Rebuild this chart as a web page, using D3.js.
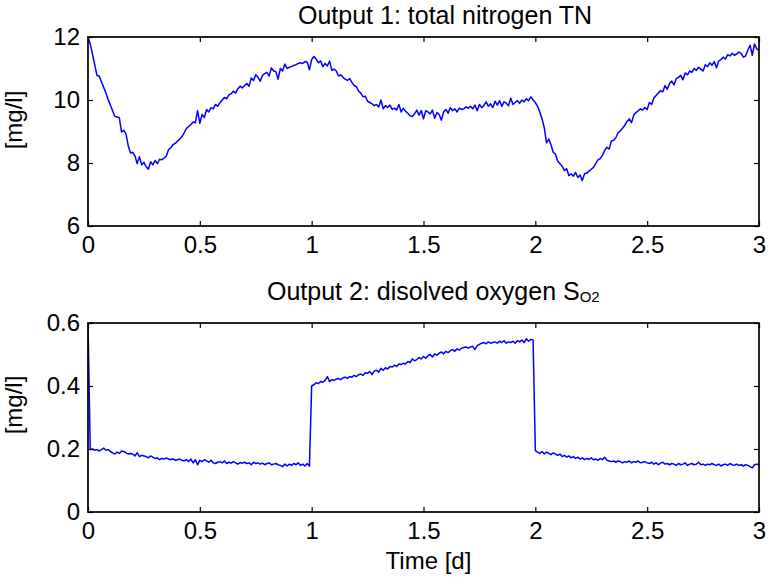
<!DOCTYPE html>
<html>
<head>
<meta charset="utf-8">
<script src="https://cdn.jsdelivr.net/npm/d3@7"></script>
<style>
  body { margin: 0; background: #fff; }
  svg { display: block; font-family: "Liberation Sans", Arial, Helvetica, sans-serif; }
</style>
</head>
<body>
<div id="chart"></div>
<script>
// samples every 0.01 d, t = 0 ... 3
var timeStep = 0.01;

// Output 1: total nitrogen TN [mg/l]
var tnValues = [
  12.00, 11.78, 11.46, 11.12, 10.78, 10.76, 10.58, 10.40, 10.22, 10.02,
  9.84, 9.66, 9.48, 9.46, 9.44, 8.98, 9.04, 8.92, 8.55, 8.32,
  8.34, 8.22, 7.98, 8.20, 7.94, 8.02, 7.88, 7.80, 8.04, 7.94,
  8.08, 7.98, 8.12, 8.10, 8.16, 8.22, 8.42, 8.48, 8.58, 8.62,
  8.70, 8.76, 8.84, 8.96, 9.10, 9.16, 9.22, 9.30, 9.28, 9.66,
  9.26, 9.54, 9.44, 9.70, 9.62, 9.76, 9.72, 9.86, 9.80, 9.92,
  10.00, 10.08, 10.04, 10.16, 10.20, 10.28, 10.22, 10.36, 10.44, 10.38,
  10.46, 10.52, 10.44, 10.70, 10.62, 10.80, 10.72, 10.60, 10.78, 10.84,
  10.88, 10.76, 11.02, 10.92, 10.90, 10.66, 11.00, 10.92, 11.14, 11.00,
  11.04, 11.06, 11.10, 11.12, 11.16, 11.18, 11.16, 11.22, 11.20, 10.96,
  11.28, 11.38, 11.30, 11.18, 11.24, 11.06, 11.16, 11.08, 11.24, 10.94,
  10.98, 10.92, 10.76, 10.80, 10.72, 10.66, 10.62, 10.68, 10.56, 10.46,
  10.42, 10.28, 10.22, 10.10, 10.12, 9.96, 9.92, 9.88, 9.82, 9.86,
  9.78, 10.00, 9.72, 9.82, 9.76, 9.84, 9.70, 9.74, 9.68, 9.86,
  9.62, 9.74, 9.64, 9.58, 9.50, 9.48, 9.56, 9.68, 9.52, 9.66,
  9.40, 9.66, 9.62, 9.56, 9.68, 9.42, 9.60, 9.54, 9.36, 9.62,
  9.70, 9.58, 9.76, 9.66, 9.72, 9.62, 9.74, 9.70, 9.72, 9.78,
  9.74, 9.80, 9.72, 9.84, 9.66, 9.86, 9.76, 9.82, 9.94, 9.80,
  9.88, 9.76, 9.96, 9.84, 9.98, 9.80, 9.94, 9.90, 9.82, 10.06,
  9.86, 9.92, 9.98, 9.90, 10.00, 9.94, 10.04, 9.98, 10.10, 10.00,
  9.92, 9.80, 9.62, 9.40, 9.12, 8.64, 8.76, 8.58, 8.34, 8.28,
  8.06, 7.98, 7.90, 7.76, 7.82, 7.60, 7.66, 7.58, 7.70, 7.54,
  7.62, 7.44, 7.66, 7.68, 7.74, 7.80, 7.86, 7.98, 8.10, 8.14,
  8.24, 8.40, 8.50, 8.44, 8.70, 8.72, 8.80, 8.96, 9.02, 9.10,
  9.20, 9.32, 9.40, 9.28, 9.52, 9.60, 9.66, 9.72, 9.68, 9.76,
  9.70, 9.92, 9.86, 10.06, 10.14, 10.22, 10.30, 10.26, 10.46, 10.34,
  10.52, 10.60, 10.48, 10.68, 10.72, 10.78, 10.64, 10.86, 10.80, 10.92,
  10.88, 11.00, 10.94, 11.04, 10.98, 10.92, 11.12, 11.06, 11.18, 11.10,
  11.22, 11.02, 11.24, 11.28, 11.36, 11.30, 11.44, 11.40, 11.48, 11.42,
  11.46, 11.52, 11.48, 11.36, 11.40, 11.58, 11.74, 11.42, 11.78, 11.62,
  11.58
];

// Output 2: dissolved oxygen S_O2 [mg/l]
var o2Values = [
  0.600, 0.198, 0.200, 0.196, 0.198, 0.194, 0.198, 0.203, 0.196, 0.198,
  0.192, 0.188, 0.184, 0.190, 0.186, 0.194, 0.192, 0.188, 0.184, 0.186,
  0.184, 0.178, 0.188, 0.176, 0.180, 0.178, 0.176, 0.172, 0.178, 0.174,
  0.170, 0.172, 0.166, 0.170, 0.168, 0.172, 0.168, 0.166, 0.169, 0.164,
  0.166, 0.168, 0.164, 0.162, 0.166, 0.160, 0.168, 0.156, 0.166, 0.150,
  0.164, 0.160, 0.166, 0.162, 0.158, 0.164, 0.156, 0.154, 0.158, 0.160,
  0.156, 0.162, 0.154, 0.158, 0.155, 0.160, 0.156, 0.152, 0.157, 0.155,
  0.158, 0.154, 0.156, 0.150, 0.158, 0.154, 0.156, 0.152, 0.155, 0.150,
  0.154, 0.156, 0.150, 0.152, 0.154, 0.150, 0.148, 0.144, 0.152, 0.146,
  0.152, 0.148, 0.154, 0.150, 0.156, 0.148, 0.152, 0.146, 0.154, 0.146,
  0.400, 0.404, 0.410, 0.408, 0.414, 0.412, 0.418, 0.430, 0.414, 0.420,
  0.418, 0.422, 0.424, 0.420, 0.426, 0.428, 0.424, 0.430, 0.428, 0.434,
  0.430, 0.436, 0.438, 0.434, 0.442, 0.440, 0.446, 0.436, 0.448, 0.450,
  0.444, 0.456, 0.450, 0.458, 0.454, 0.462, 0.460, 0.466, 0.462, 0.470,
  0.468, 0.472, 0.470, 0.478, 0.474, 0.486, 0.480, 0.484, 0.490, 0.486,
  0.494, 0.488, 0.496, 0.500, 0.492, 0.502, 0.498, 0.504, 0.508, 0.502,
  0.510, 0.506, 0.512, 0.516, 0.510, 0.518, 0.514, 0.520, 0.522, 0.524,
  0.520, 0.524, 0.526, 0.516, 0.528, 0.532, 0.536, 0.538, 0.534, 0.540,
  0.536, 0.538, 0.540, 0.536, 0.542, 0.538, 0.544, 0.536, 0.540, 0.538,
  0.542, 0.536, 0.544, 0.540, 0.546, 0.538, 0.550, 0.542, 0.548, 0.546,
  0.195, 0.190, 0.186, 0.192, 0.184, 0.190, 0.186, 0.182, 0.188, 0.184,
  0.180, 0.184, 0.176, 0.180, 0.174, 0.178, 0.172, 0.176, 0.170, 0.174,
  0.168, 0.172, 0.166, 0.170, 0.167, 0.172, 0.166, 0.168, 0.164, 0.170,
  0.166, 0.174, 0.164, 0.162, 0.160, 0.162, 0.158, 0.162, 0.160, 0.156,
  0.160, 0.158, 0.162, 0.156, 0.160, 0.158, 0.162, 0.156, 0.158, 0.160,
  0.156, 0.154, 0.158, 0.152, 0.156, 0.150, 0.155, 0.158, 0.152, 0.154,
  0.150, 0.154, 0.152, 0.148, 0.154, 0.150, 0.152, 0.156, 0.148, 0.152,
  0.154, 0.150, 0.152, 0.158, 0.150, 0.152, 0.148, 0.152, 0.150, 0.154,
  0.150, 0.148, 0.152, 0.146, 0.150, 0.152, 0.148, 0.154, 0.150, 0.148,
  0.152, 0.148, 0.150, 0.146, 0.150, 0.148, 0.144, 0.140, 0.150, 0.152,
  0.150
];

var xTickValues = [0, 0.5, 1, 1.5, 2, 2.5, 3];
var tnTickValues = [6, 8, 10, 12];
var o2TickValues = [0, 0.2, 0.4, 0.6];

var width = 769, height = 579;
var left = 88, right = 759;
var fontFamily = '"Liberation Sans", Arial, Helvetica, sans-serif';

var svg = d3.select('#chart').append('svg')
    .attr('width', width)
    .attr('height', height);

var x = d3.scaleLinear().domain([0, 3]).range([left, right]);
var fmt = function (d) { return String(d); };

function panel(top, bottom, values, yDomain, yTicks, id) {
    var y = d3.scaleLinear().domain(yDomain).range([bottom, top]);
    var g = svg.append('g');

    g.append('clipPath').attr('id', id)
        .append('rect')
        .attr('x', left).attr('y', top - 1)
        .attr('width', right - left).attr('height', bottom - top + 2);

    var line = d3.line()
        .x(function (d, i) { return x(i * timeStep); })
        .y(function (d) { return y(d); });

    g.append('path')
        .datum(values)
        .attr('clip-path', 'url(#' + id + ')')
        .attr('fill', 'none')
        .attr('stroke', '#0000ff')
        .attr('stroke-width', 1.5)
        .attr('stroke-linejoin', 'round')
        .attr('d', line);

    g.append('g').attr('transform', 'translate(0,' + bottom + ')')
        .call(d3.axisBottom(x).tickValues(xTickValues).tickFormat(fmt)
            .tickSizeInner(-5).tickSizeOuter(0).tickPadding(10));
    g.append('g').attr('transform', 'translate(0,' + top + ')')
        .call(d3.axisTop(x).tickValues(xTickValues).tickFormat('')
            .tickSizeInner(-5).tickSizeOuter(0));
    g.append('g').attr('transform', 'translate(' + left + ',0)')
        .call(d3.axisLeft(y).tickValues(yTicks).tickFormat(fmt)
            .tickSizeInner(-5).tickSizeOuter(0).tickPadding(8));
    g.append('g').attr('transform', 'translate(' + right + ',0)')
        .call(d3.axisRight(y).tickValues(yTicks).tickFormat('')
            .tickSizeInner(-5).tickSizeOuter(0));

    g.selectAll('.domain').remove();
    g.selectAll('.tick line').attr('stroke', '#000').attr('stroke-width', 1.2);
    g.selectAll('.tick text')
        .attr('fill', '#000')
        .attr('font-size', 24)
        .attr('font-family', fontFamily);

    g.append('rect')
        .attr('x', left).attr('y', top)
        .attr('width', right - left).attr('height', bottom - top)
        .attr('fill', 'none')
        .attr('stroke', '#000')
        .attr('stroke-width', 1.7);
    return g;
}

var p1 = panel(37, 226, tnValues, [6, 12], tnTickValues, 'clip1');
var p2 = panel(323, 512, o2Values, [0, 0.6], o2TickValues, 'clip2');

// titles
svg.append('text')
    .attr('x', 298).attr('y', 24)
    .attr('font-size', 25)
    .text('Output 1: total nitrogen TN');

var t2 = svg.append('text')
    .attr('x', 267).attr('y', 300)
    .attr('font-size', 25);
t2.append('tspan').text('Output 2: disolved oxygen S');
t2.append('tspan').attr('font-size', 15).attr('dy', 2).text('O2');

// axis labels
[120, 405].forEach(function (cy) {
    svg.append('text')
        .attr('transform', 'translate(22,' + cy + ') rotate(-90)')
        .attr('text-anchor', 'middle')
        .attr('font-size', 24)
        .text('[mg/l]');
});

svg.append('text')
    .attr('x', 428.5).attr('y', 569)
    .attr('text-anchor', 'middle')
    .attr('font-size', 24)
    .text('Time [d]');
</script>
</body>
</html>
